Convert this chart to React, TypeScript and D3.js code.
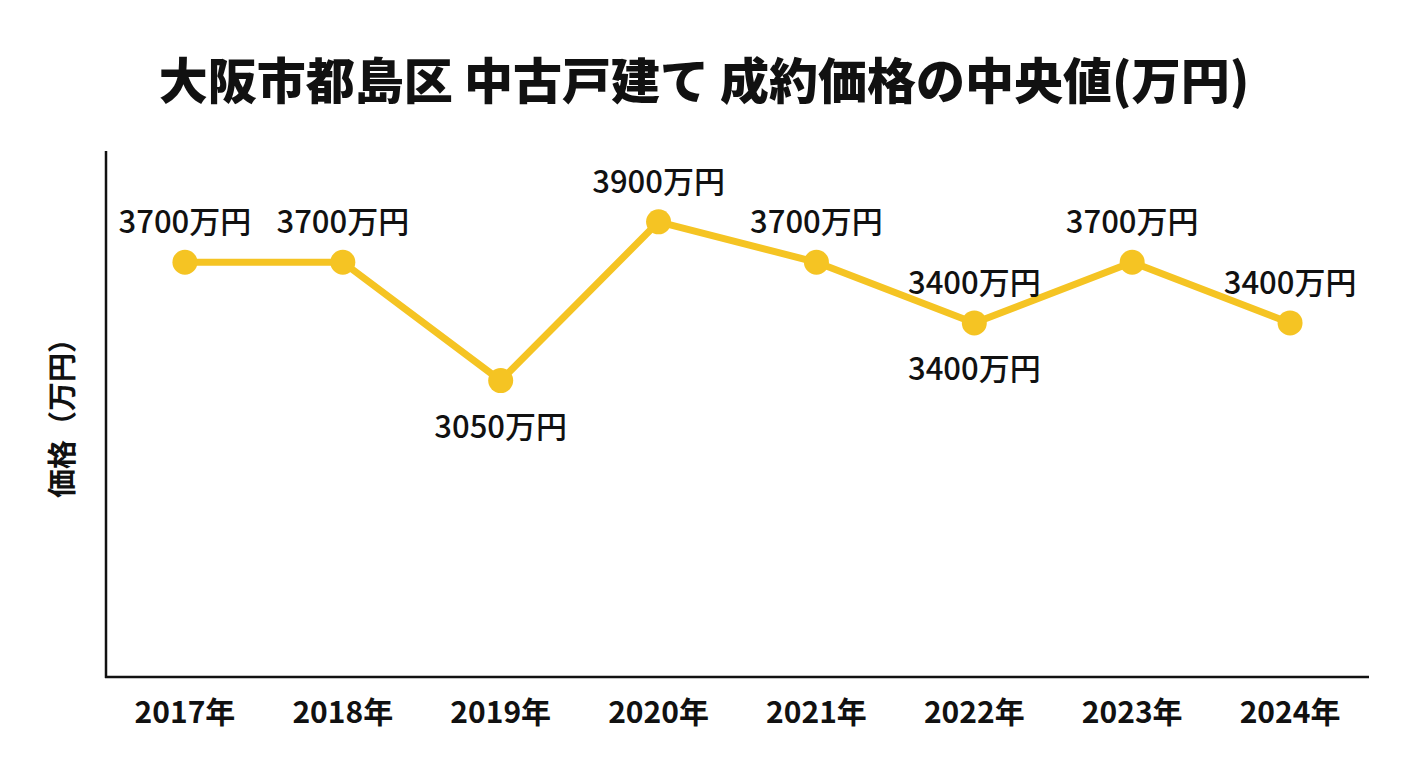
import React from "react";
import * as d3 from "d3";

const title = "大阪市都島区 中古戸建て 成約価格の中央値(万円)";
const yAxisTitle = "価格（万円）";
const years = ["2017年", "2018年", "2019年", "2020年", "2021年", "2022年", "2023年", "2024年"];
// plotted positions
const prices = [3700, 3700, 3115, 3900, 3700, 3400, 3700, 3400];
// label text as printed in the picture
const priceLabels = ["3700万円", "3700万円", "3050万円", "3900万円", "3700万円", "3400万円", "3700万円", "3400万円"];
const labelPlacement = ["above", "above", "below", "above", "above", "both", "above", "above"];

const W = 1408;
const H = 768;
const FONT = "'Noto Sans CJK JP', 'Noto Sans', sans-serif";
const LINE = "#F5C423";

export default function App() {
  const left = 106;
  const right = 1369;
  const top = 151;
  const bottom = 677;

  const x = d3.scalePoint<string>().domain(years).range([left, right]).padding(0.5);
  const y = d3.scaleLinear().domain([1650, 4250]).range([bottom, top]);

  const line = d3
    .line<number>()
    .x((_, i) => x(years[i]) as number)
    .y((d) => y(d));

  return (
    <svg width={W} height={H} style={{ position: "absolute", left: 0, top: 0, background: "#fff" }}>
      <rect x={0} y={0} width={W} height={H} fill="#fff" />
      <text
        x={W / 2}
        y={99}
        textAnchor="middle"
        fontFamily={FONT}
        fontWeight={900}
        fontSize={49}
        fill="#111"
      >
        {title}
      </text>

      {/* axes */}
      <line x1={left} x2={left} y1={top} y2={bottom + 1} stroke="#111" strokeWidth={2.5} />
      <line x1={left - 1} x2={right} y1={bottom} y2={bottom} stroke="#111" strokeWidth={2.5} />

      <text
        transform={`translate(60, 411) rotate(-90)`}
        textAnchor="middle"
        dominantBaseline="central"
        fontFamily={FONT}
        fontWeight={700}
        fontSize={29}
        fill="#111"
      >
        {yAxisTitle}
      </text>

      {years.map((yr) => (
        <text
          key={yr}
          x={x(yr)}
          y={723}
          textAnchor="middle"
          fontFamily={FONT}
          fontWeight={700}
          fontSize={30}
          fill="#111"
        >
          {yr}
        </text>
      ))}

      <path d={line(prices) || ""} fill="none" stroke={LINE} strokeWidth={7} strokeLinejoin="round" />
      {prices.map((p, i) => (
        <circle key={i} cx={x(years[i])} cy={y(p)} r={12.5} fill={LINE} />
      ))}

      {prices.map((p, i) => {
        const cx = x(years[i]) as number;
        const cy = y(p);
        const pl = labelPlacement[i];
        const out: React.ReactNode[] = [];
        if (pl === "above" || pl === "both") {
          out.push(
            <text key={`a${i}`} x={cx} y={cy - 29} textAnchor="middle" fontFamily={FONT} fontWeight={500} fontSize={31} fill="#111">
              {priceLabels[i]}
            </text>
          );
        }
        if (pl === "below" || pl === "both") {
          out.push(
            <text key={`b${i}`} x={cx} y={cy + 57} textAnchor="middle" fontFamily={FONT} fontWeight={500} fontSize={31} fill="#111">
              {priceLabels[i]}
            </text>
          );
        }
        return out;
      })}
    </svg>
  );
}
